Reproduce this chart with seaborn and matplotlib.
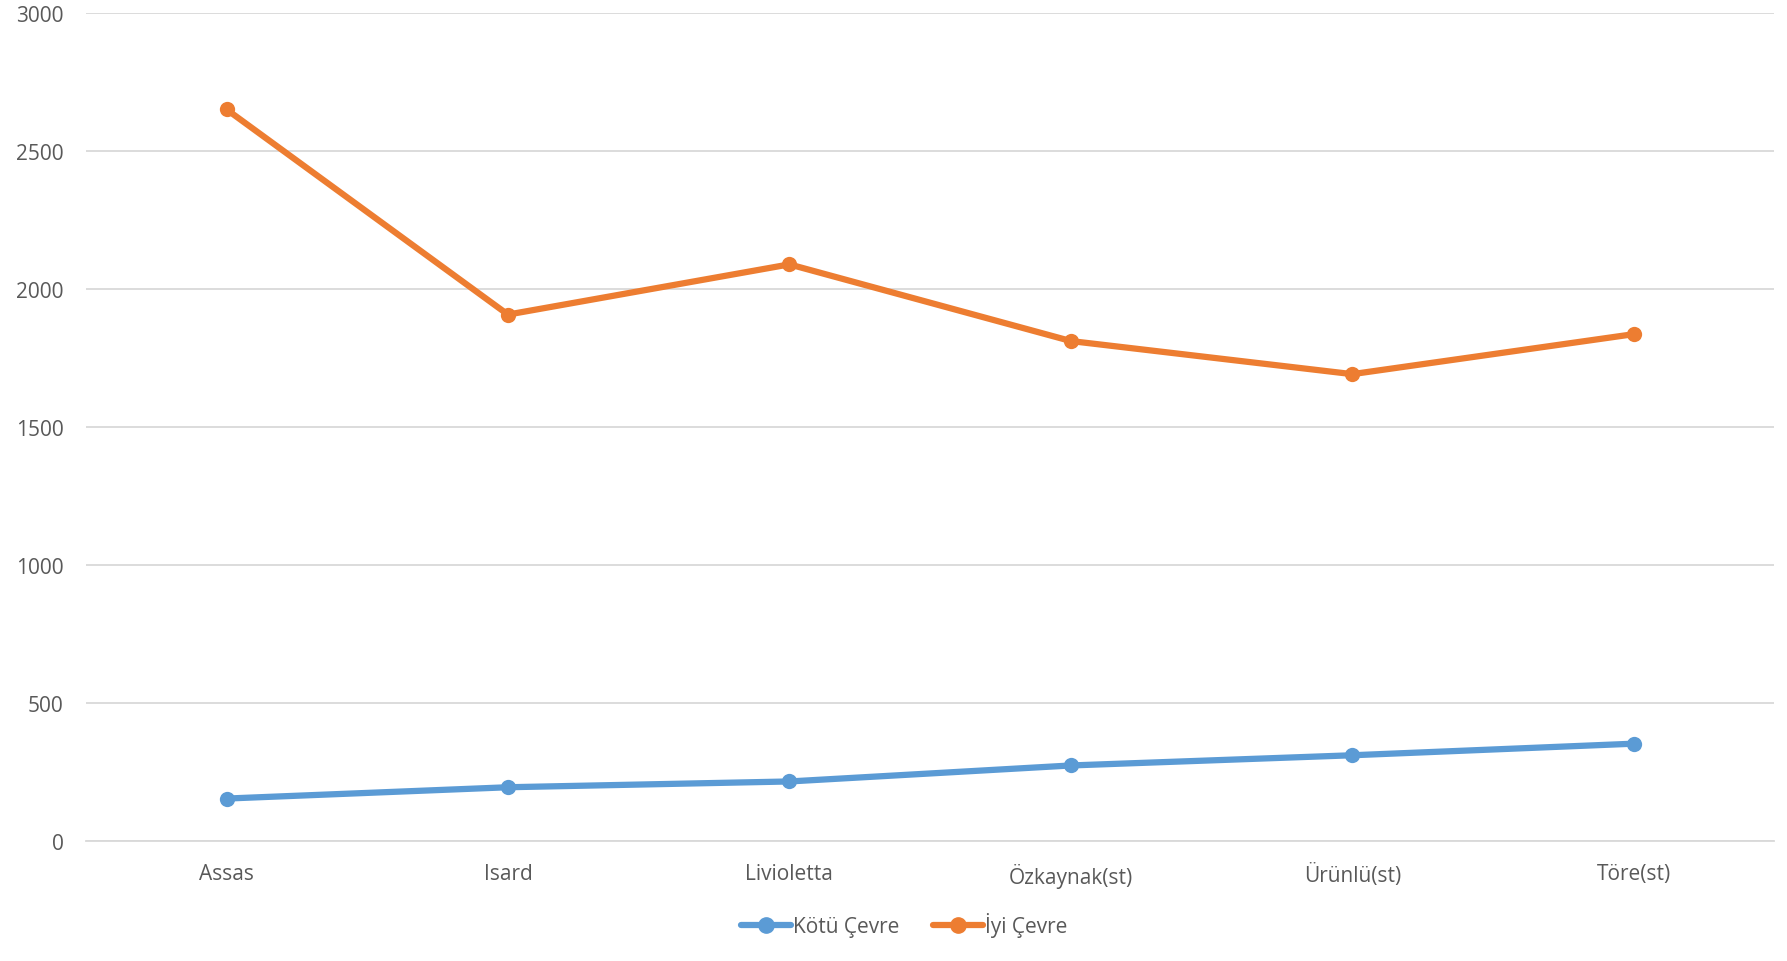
import pandas as pd
import seaborn as sns
import matplotlib.pyplot as plt

# chart data
categories = ['Assas', 'Isard', 'Livioletta', 'Özkaynak(st)', 'Ürünlü(st)', 'Töre(st)']
kotu_cevre = [153, 194, 215, 273, 310, 352]
iyi_cevre = [2652, 1908, 2090, 1812, 1692, 1837]
series_names = ['Kötü Çevre', 'İyi Çevre']
colors = ['#5B9BD5', '#ED7D31']

df = pd.DataFrame({
    'cat': categories * 2,
    'pos': list(range(len(categories))) * 2,
    'value': kotu_cevre + iyi_cevre,
    'series': [series_names[0]] * len(categories) + [series_names[1]] * len(categories),
})

sns.set_style('white')
plt.rcParams['font.family'] = ['Open Sans', 'DejaVu Sans']

fig = plt.figure(figsize=(17.87, 9.62), dpi=100)
ax = fig.add_axes([0.048, 0.125, 0.945, 0.86])

sns.lineplot(data=df, x='pos', y='value', hue='series', palette=colors,
             marker='o', markersize=11, markeredgewidth=0, linewidth=4.5,
             sort=False, ax=ax, legend=False)

ax.set_xlim(-0.5, len(categories) - 0.5)
ax.set_ylim(0, 3000)
ax.set_yticks(range(0, 3001, 500))
ax.set_xticks(range(len(categories)))
ax.set_xticklabels(categories)
ax.set_xlabel('')
ax.set_ylabel('')
ax.grid(axis='y', color='#D9D9D9', linewidth=1.3)
ax.set_axisbelow(True)
for s in ['top', 'right', 'left']:
    ax.spines[s].set_visible(False)
ax.spines['bottom'].set_color('#D9D9D9')
ax.spines['bottom'].set_linewidth(1.3)
ax.tick_params(axis='both', length=0, labelsize=15, colors='#595959')
ax.tick_params(axis='x', pad=16)
ax.tick_params(axis='y', pad=16)

handles = [plt.Line2D([], [], color=c, marker='o', markersize=11, linewidth=4.5)
           for c in colors]
fig.legend(handles, series_names, loc='center', bbox_to_anchor=(0.506, 0.038),
           ncol=2, frameon=False, fontsize=15, labelcolor='#595959',
           handlelength=2.4, handletextpad=0.1, columnspacing=1.6)

plt.savefig('out.png', dpi=100)
